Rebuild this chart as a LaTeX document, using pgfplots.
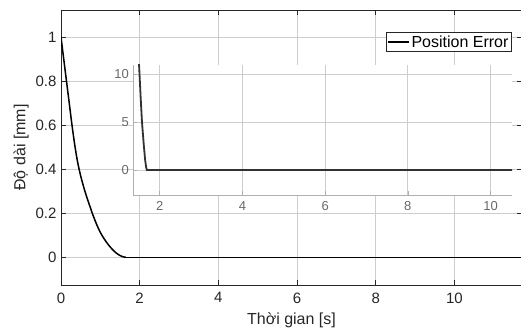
\documentclass[border=0pt]{standalone}
\usepackage{pgfplots}
\pgfplotsset{compat=1.18}
\usepackage{fontspec}
\setmainfont{Liberation Sans}
\definecolor{axc}{RGB}{38,38,38}
\definecolor{gridc}{RGB}{205,205,205}
\definecolor{insc}{RGB}{105,105,105}
\definecolor{insax}{RGB}{175,175,175}
\definecolor{insline}{RGB}{50,50,50}
\begin{document}
\begin{tikzpicture}[x=1pt,y=1pt]
\useasboundingbox (0,0) rectangle (521,334);
\begin{axis}[
 at={(61pt,49pt)}, anchor=south west,
 width=461pt, height=275pt, scale only axis,
 xmin=0, xmax=11.72, ymin=-0.126, ymax=1.124,
 xtick={0,2,...,10}, ytick={0,0.2,0.4,0.6,0.8,1},
 yticklabels={0,0.2,0.4,0.6,0.8,1},
 tick align=inside, major tick length=5pt,
 grid=major, major grid style={gridc, line width=0.7pt},
 axis line style={axc, line width=0.8pt},
 tick style={axc, line width=0.6pt},
 ticklabel style={font=\fontsize{15}{17}\selectfont, text=axc},
 xticklabel style={yshift=-4pt},
 yticklabel style={xshift=-1pt},
 /pgf/number format/assume math mode=true,
 xlabel={Thời gian [s]}, ylabel={Độ dài [mm]},
 label style={font=\fontsize{16}{19}\selectfont, text=axc},
 xlabel style={yshift=-3pt},
 legend style={at={(0.9777,0.9189)}, anchor=north east, draw=axc, line width=0.5pt, fill=white,
   font=\fontsize{16}{19}\selectfont, inner xsep=1pt, inner ysep=1pt, legend cell align=left},
 legend image code/.code={\draw[#1] (0pt,0pt) -- (21pt,0pt);},
]
\addplot[black, line width=1.5pt, smooth, tension=0.5] coordinates {
(0,1) (0.07,0.9) (0.14,0.8) (0.21,0.7) (0.28,0.6) (0.35,0.51) (0.42,0.435) (0.5,0.37)
(0.6,0.305) (0.7,0.25) (0.8,0.198) (0.9,0.152) (1.0,0.113) (1.1,0.083) (1.2,0.058)
(1.3,0.037) (1.4,0.02) (1.5,0.008) (1.58,0.002) (1.65,0)
};
\addlegendentry{Position Error}
\addplot[black, line width=1.5pt, forget plot] coordinates {(1.65,0) (11.8,0)};
\end{axis}
\begin{axis}[
 at={(133.3pt,139pt)}, anchor=south west,
 width=378.7pt, height=130pt, scale only axis,
 xmin=1.36, xmax=10.52, ymin=-2.6, ymax=10.94,
 axis background/.style={fill=white},
 axis x line*=bottom, axis y line*=left,
 axis line style={insax, line width=0.8pt, -},
 xtick={2,4,...,10}, ytick={0,5,10},
 tick align=inside, major tick length=4pt,
 tick style={insax, line width=0.6pt},
 grid=major, major grid style={gridc, line width=0.7pt},
 ticklabel style={font=\fontsize{13}{15}\selectfont, text=insc},
 xticklabel style={yshift=-3pt},
 yticklabel style={xshift=-1pt},
 /pgf/number format/assume math mode=true,
]
\addplot[insline, line width=1.8pt] coordinates {
(1.46,14) (1.50,10.9) (1.535,7.8) (1.57,5) (1.61,2.8) (1.645,1.1) (1.67,0.3) (1.69,0) (10.52,0)
};
\end{axis}
\end{tikzpicture}
\end{document}
